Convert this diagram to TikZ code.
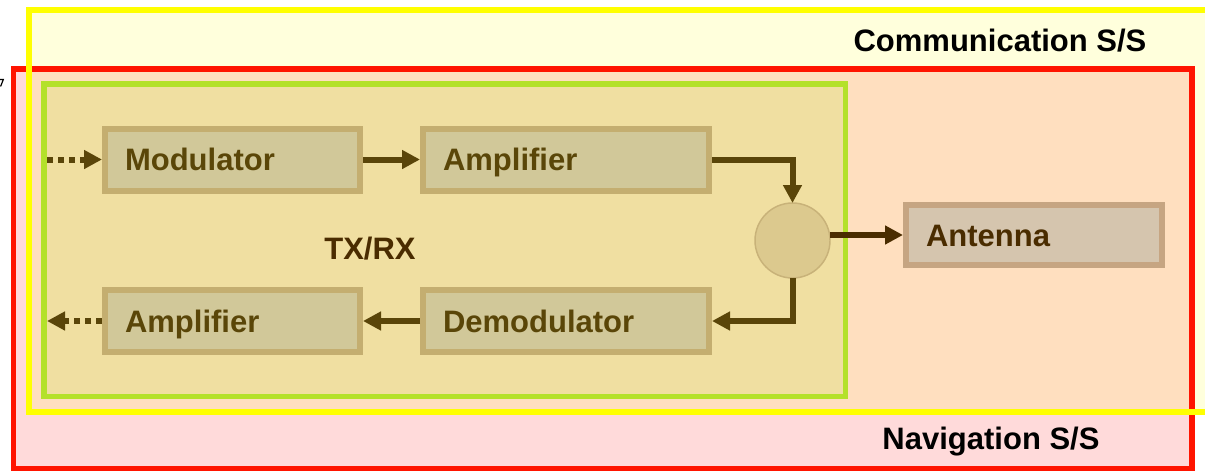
\documentclass[tikz,border=0pt]{standalone}
\usepackage{fontspec}
\setmainfont{Liberation Sans}
\usetikzlibrary{arrows.meta}

\definecolor{commfill}{HTML}{FFFFDC}
\definecolor{navfill}{HTML}{FFDADA}
\definecolor{bothfill}{HTML}{FFDFBF}
\definecolor{commline}{HTML}{FFFF00}
\definecolor{navline}{HTML}{FF1400}
\definecolor{trxline}{HTML}{B4E12A}
\definecolor{trxfill}{HTML}{F0DFA1}
\definecolor{boxline}{HTML}{C4AE70}
\definecolor{boxfill}{HTML}{D1C899}
\definecolor{antline}{HTML}{C6A582}
\definecolor{antfill}{HTML}{D5C5AE}
\definecolor{circfill}{HTML}{DCC98E}
\definecolor{circline}{HTML}{C8B279}
\definecolor{flowcol}{HTML}{5A4509}
\definecolor{antflow}{HTML}{4A2C00}
\definecolor{olivetext}{HTML}{5A4608}
\definecolor{browntext}{HTML}{4A2C00}

\begin{document}
\begin{tikzpicture}[x=0.75pt,y=-0.75pt,
  lbl/.style={font=\fontsize{23.25}{28}\selectfont\bfseries, inner sep=0pt},
  stage/.style={lbl, draw=boxline, fill=boxfill, line width=4.5pt,
    text=olivetext, align=left, inner xsep=15pt, inner ysep=0pt,
    text width=161.25pt, minimum height=46.5pt, outer sep=2.25pt,
    text height=16.7pt, text depth=0pt},
  widestage/.style={stage, text width=184.5pt},
  antbox/.style={stage, draw=antline, fill=antfill, text=browntext,
    text width=162pt, minimum height=45pt},
  junction/.style={circle, draw=circline, fill=circfill, line width=1.1pt,
    minimum size=56.25pt, inner sep=0pt, outer sep=0pt},
  flow/.style={draw=flowcol, line width=4.5pt,
    -{Triangle[length=13.5pt, width=13.5pt]}},
  dotflow/.style={flow, dash pattern=on 4.5pt off 3.75pt}]

\clip (0,0) rectangle (1205,471);

% subsystem areas: communication, navigation and their overlap
\fill[commfill] (29,10) rectangle (1215,411.5);
\fill[navfill] (13.5,69) rectangle (1192,468.5);
\fill[bothfill] (29,69) rectangle (1192,411.5);
\draw[navline, line width=4.1pt] (13.5,69) rectangle (1192,468.5);
\draw[commline, line width=4.5pt] (29,10) rectangle (1215,411.5);

% transceiver area
\draw[trxline, fill=trxfill, line width=4.1pt] (44,84) rectangle (845.5,396.5);

% small mark at the left edge
\draw[black, line width=0.9pt] (0,79.5) -- (3.3,79.5) -- (0.6,86.5);

\node[lbl, text=black] (comm) at (1000,41) {Communication S/S};
\node[lbl, text=black] (nav) at (991,441.5) {Navigation S/S};
\node[lbl, text=browntext] (trx) at (370,248.5) {TX/RX};

\node[stage] (mod) at (232.5,159.5) {Modulator};
\node[widestage] (amp1) at (566,159.5) {Amplifier};
\node[widestage] (demod) at (566,321) {Demodulator};
\node[stage] (amp2) at (232.5,321) {Amplifier};
\node[antbox] (ant) at (1034,235) {Antenna};
\node[junction] (sum) at (792.5,240.5) {};

\coordinate (inL) at (47,159.5);
\coordinate (outL) at (47,321);

\draw[dotflow] (inL) -- (mod.west);
\draw[flow] (mod) -- (amp1);
\draw[flow] (amp1.east) -| (sum.north);
\draw[flow, draw=antflow] (sum.east |- ant.west) -- (ant.west);
\draw[flow] (sum.south) |- (demod.east);
\draw[flow] (demod) -- (amp2);
\draw[dotflow] (amp2.west) -- (outL);
\end{tikzpicture}
\end{document}
